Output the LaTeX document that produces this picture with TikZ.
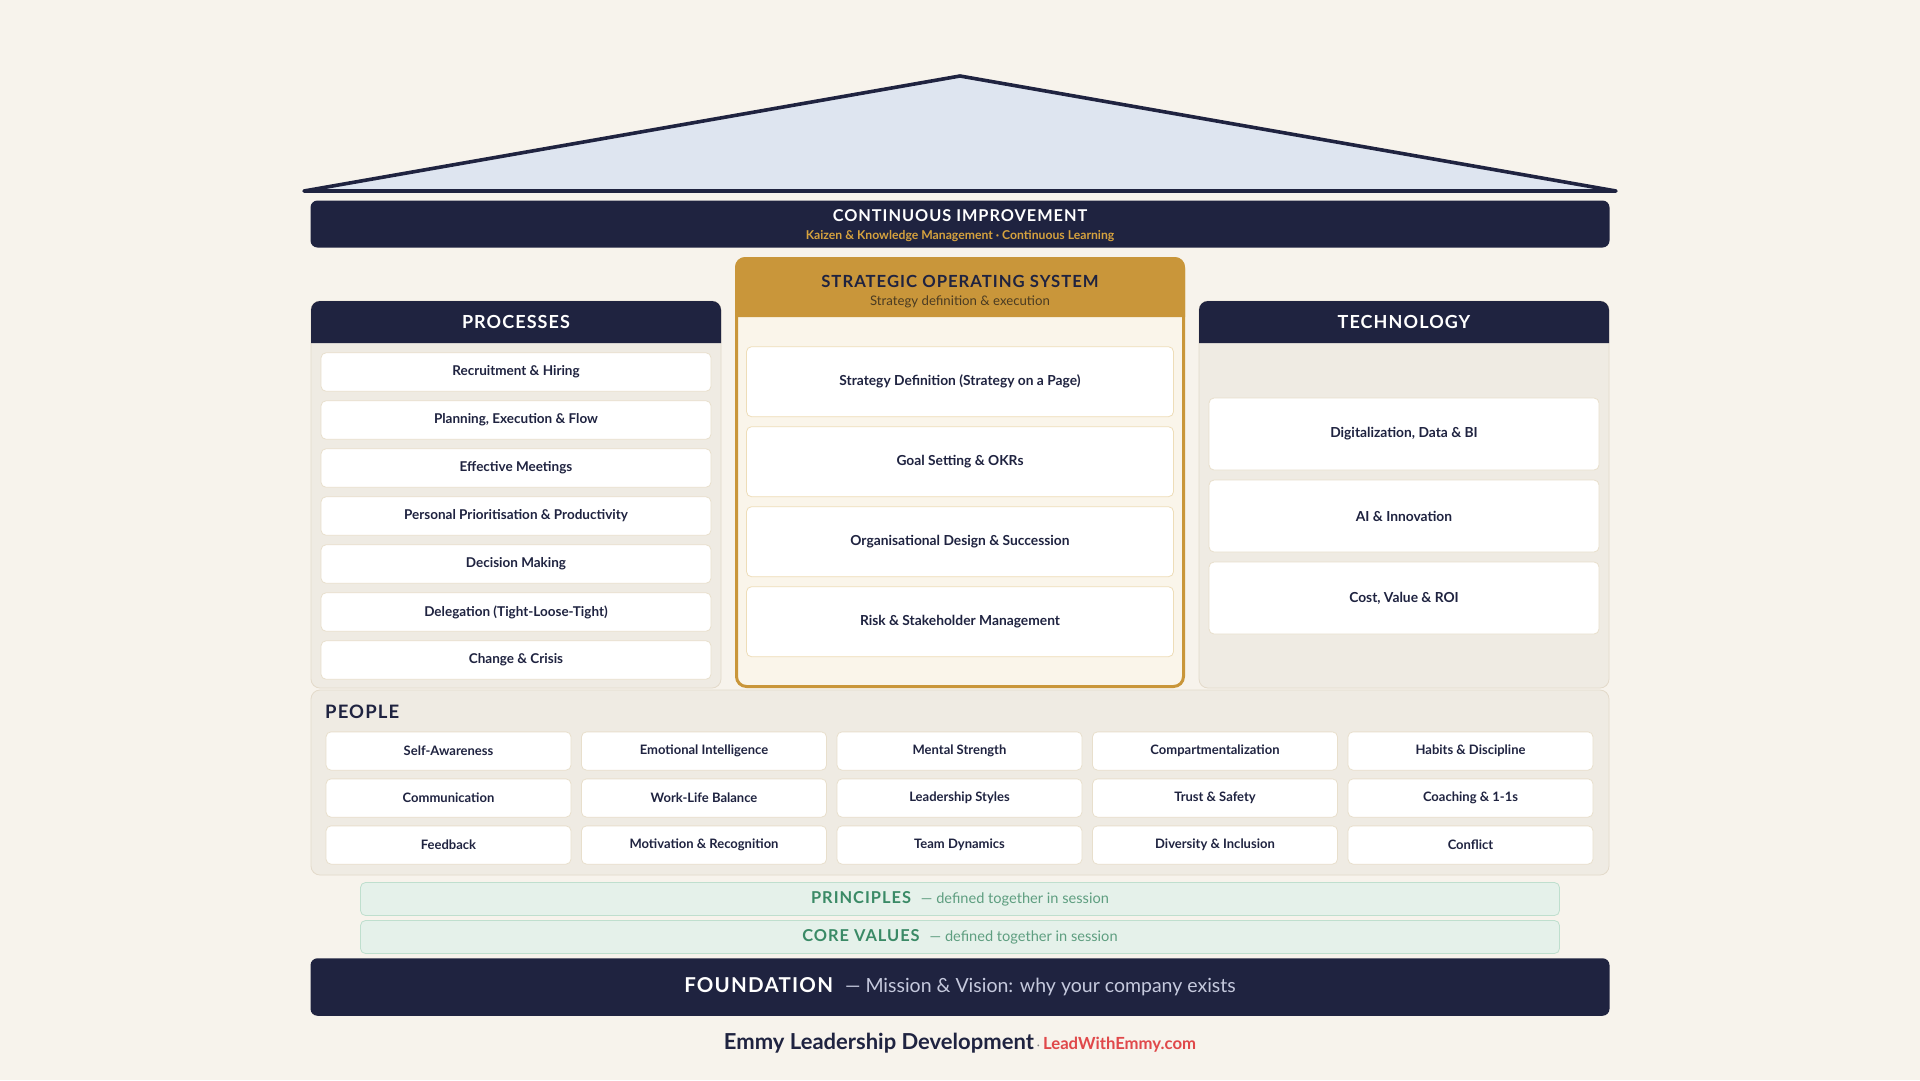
\documentclass[tikz,border=0pt]{standalone}
\usepackage{fontspec}
\setmainfont{Lato}
\newfontfamily\capsfont[LetterSpace=6]{Lato}
\definecolor{bg}{HTML}{F7F3EC}
\definecolor{navy}{HTML}{1F2340}
\definecolor{roof}{HTML}{DEE5F0}
\definecolor{gold}{HTML}{C9963A}
\definecolor{goldtxt}{HTML}{D6A23E}
\definecolor{sosbody}{HTML}{FAF5EA}
\definecolor{colbody}{HTML}{EFEBE3}
\definecolor{colborder}{HTML}{E3DACA}
\definecolor{itemborder}{HTML}{E8DFCC}
\definecolor{sositemborder}{HTML}{EEDDB8}
\definecolor{greentxt}{HTML}{3A8A66}
\definecolor{greenlight}{HTML}{5E9E80}
\definecolor{greenfill}{HTML}{E5F1EA}
\definecolor{greenborder}{HTML}{BFDFCE}
\definecolor{foundtxt}{HTML}{C5C9DD}
\definecolor{redtxt}{HTML}{E0484A}
\definecolor{subbrown}{HTML}{4A3B22}
\tikzset{
  item/.style={draw=itemborder, fill=white, rounded corners=5pt, line width=0.8pt,
    text=navy, font=\bfseries\fontsize{13.5}{15}\selectfont, inner sep=0pt, align=center},
  pitem/.style={item, minimum width=390pt, minimum height=38.5pt},
  sitem/.style={item, draw=sositemborder, minimum width=427pt, minimum height=70pt, font=\bfseries\fontsize{13.8}{15}\selectfont},
  titem/.style={item, minimum width=390pt, minimum height=72pt, font=\bfseries\fontsize{13.8}{15}\selectfont},
  peitem/.style={item, minimum width=245pt, minimum height=38.3pt, font=\bfseries\fontsize{13}{15}\selectfont},
  coltitle/.style={text=white, font=\capsfont\bfseries\fontsize{18}{20}\selectfont, inner sep=0pt},
  band/.style={draw=greenborder, fill=greenfill, rounded corners=5pt, line width=0.8pt,
    minimum width=1199pt, minimum height=33pt, inner sep=0pt},
}
\begin{document}
\begin{tikzpicture}[x=1pt,y=-1pt]
\fill[bg] (0,0) rectangle (1920,1080);
\useasboundingbox (0,0) rectangle (1920,1080);
% roof
\filldraw[fill=roof, draw=navy, line width=3.6pt, line join=round, line cap=round]
  (304,191) -- (960,76) -- (1616,191) -- cycle;
% continuous improvement
\node[fill=navy, rounded corners=7pt, minimum width=1299pt, minimum height=47pt, inner sep=0pt] (ci) at (960,224) {};
\node[text=white, font=\capsfont\bfseries\fontsize{16.3}{18}\selectfont, inner sep=0pt] (cit) at (960,215.5) {CONTINUOUS IMPROVEMENT};
\node[text=goldtxt, font=\bfseries\fontsize{12.2}{14}\selectfont, inner sep=0pt] (cis) at (960,236) {Kaizen \& Knowledge Management · Continuous Learning};
% processes column
\filldraw[fill=colbody, draw=colborder, line width=0.8pt, rounded corners=9pt] (311,301) rectangle (721,688);
\fill[navy] (311,343) [rounded corners=9pt] -- (311,301) -- (721,301) [sharp corners] -- (721,343) -- cycle;
\node[coltitle] (proct) at (516,322) {PROCESSES};
\foreach \t [count=\i from 0] in {Recruitment \& Hiring, {Planning, Execution \& Flow}, Effective Meetings, Personal Prioritisation \& Productivity, Decision Making, Delegation (Tight-Loose-Tight), Change \& Crisis}
  \node[pitem] (p\i) at (516,{372+48*\i}) {\t};
% technology column
\filldraw[fill=colbody, draw=colborder, line width=0.8pt, rounded corners=9pt] (1199,301) rectangle (1609,688);
\fill[navy] (1199,343) [rounded corners=9pt] -- (1199,301) -- (1609,301) [sharp corners] -- (1609,343) -- cycle;
\node[coltitle] (techt) at (1404,322) {TECHNOLOGY};
\foreach \t [count=\i from 0] in {{Digitalization, Data \& BI}, AI \& Innovation, {Cost, Value \& ROI}}
  \node[titem] (t\i) at (1404,{434+82*\i}) {\t};
% strategic operating system
\fill[sosbody, rounded corners=10pt] (735,257) rectangle (1185,688);
\fill[gold] (735,317) [rounded corners=10pt] -- (735,257) -- (1185,257) [sharp corners] -- (1185,317) -- cycle;
\draw[gold, line width=3pt, rounded corners=10pt] (736.5,258.5) rectangle (1183.5,686.5);
\node[text=navy, font=\capsfont\bfseries\fontsize{16.7}{18}\selectfont, inner sep=0pt] (sost) at (960,281) {STRATEGIC OPERATING SYSTEM};
\node[text=subbrown, font=\fontsize{13.2}{15}\selectfont, inner sep=0pt] (soss) at (960,302) {Strategy definition \& execution};
\foreach \t [count=\i from 0] in {Strategy Definition (Strategy on a Page), Goal Setting \& OKRs, Organisational Design \& Succession, Risk \& Stakeholder Management}
  \node[sitem] (s\i) at (960,{381.7+80*\i}) {\t};
% people
\filldraw[fill=colbody, draw=colborder, line width=0.8pt, rounded corners=9pt] (311,690) rectangle (1609,875);
\node[anchor=west, text=navy, font=\capsfont\bfseries\fontsize{18.5}{20}\selectfont, inner sep=0pt] (peot) at (325,712) {PEOPLE};
\foreach \t [count=\k from 0] in {Self-Awareness, Emotional Intelligence, Mental Strength, Compartmentalization, Habits \& Discipline, Communication, Work-Life Balance, Leadership Styles, Trust \& Safety, Coaching \& 1-1s, Feedback, Motivation \& Recognition, Team Dynamics, Diversity \& Inclusion, Conflict}{
  \pgfmathtruncatemacro{\r}{int(\k/5)}
  \pgfmathtruncatemacro{\c}{mod(\k,5)}
  \node[peitem] (pe\k) at ({448.5+255.5*\c},{751+47*\r}) {\t};
}
% principles and values
\node[band] (prin) at (960,899) {};
\node[inner sep=0pt] (print) at (960,899) {\textcolor{greentxt}{\capsfont\bfseries\fontsize{16.4}{18}\selectfont PRINCIPLES}\hspace{10pt}\textcolor{greenlight}{\fontsize{14.6}{16}\selectfont — defined together in session}};
\node[band] (core) at (960,937) {};
\node[inner sep=0pt] (coret) at (960,937) {\textcolor{greentxt}{\capsfont\bfseries\fontsize{16.4}{18}\selectfont CORE VALUES}\hspace{10pt}\textcolor{greenlight}{\fontsize{14.6}{16}\selectfont — defined together in session}};
% foundation
\node[fill=navy, rounded corners=7pt, minimum width=1299pt, minimum height=57.5pt, inner sep=0pt] (found) at (960,987) {};
\node[inner sep=0pt] (foundt) at (960,987) {\textcolor{white}{\capsfont\bfseries\fontsize{20.5}{23}\selectfont FOUNDATION}\hspace{12pt}\textcolor{foundtxt}{\fontsize{19.5}{22}\selectfont — Mission \& Vision: why your company exists}};
% footer
\node[inner sep=0pt] (foot) at (960,1043) {\textcolor{navy}{\bfseries\fontsize{22}{25}\selectfont Emmy Leadership Development}\textcolor{gray}{\fontsize{12}{14}\selectfont\ · }\textcolor{redtxt}{\bfseries\fontsize{16.7}{19}\selectfont LeadWithEmmy.com}};
\end{tikzpicture}
\end{document}
